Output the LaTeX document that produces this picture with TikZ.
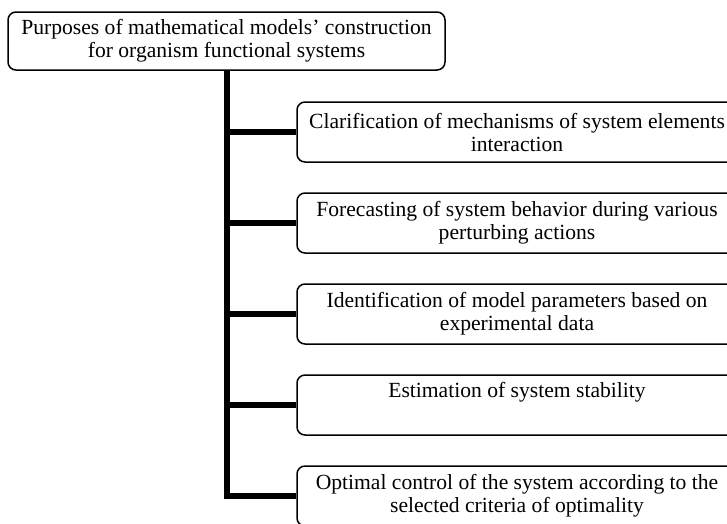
\documentclass[tikz,border=0pt]{standalone}
\usepackage{fontspec}
\setmainfont{Liberation Serif}
\begin{document}
\begin{tikzpicture}[x=1pt,y=-1pt,
  box/.style={draw, line width=1.5pt, rounded corners=8pt, align=center,
    font=\fontsize{21.6}{23}\selectfont, inner sep=0pt},
  sub/.style={box, minimum width=440pt, minimum height=60pt},
  link/.style={line width=5.5pt}]
\useasboundingbox (0,0) rectangle (727,523);
\clip (0,0) rectangle (727,523);
\node[box, minimum width=437pt, minimum height=58pt] (top) at (226.5,41)
  {Purposes of mathematical models’ construction\\for organism functional systems};
\node[sub] (b1) at (517,132) {Clarification of mechanisms of system elements\\interaction};
\node[sub] (b2) at (517,223) {Forecasting of system behavior during various\\perturbing actions};
\node[sub] (b3) at (517,314) {Identification of model parameters based on\\experimental data};
\node[sub] (b4) at (517,405) {Estimation of system stability\\\strut};
\node[sub] (b5) at (517,496) {Optimal control of the system according to the\\selected criteria of optimality};
\coordinate (tr) at (227,0);
\draw[link] (top.south -| tr) |- (b5.west);
\foreach \b in {b1,b2,b3,b4}{
  \draw[link] (tr |- \b.west) -- (\b.west);
}
\end{tikzpicture}
\end{document}
